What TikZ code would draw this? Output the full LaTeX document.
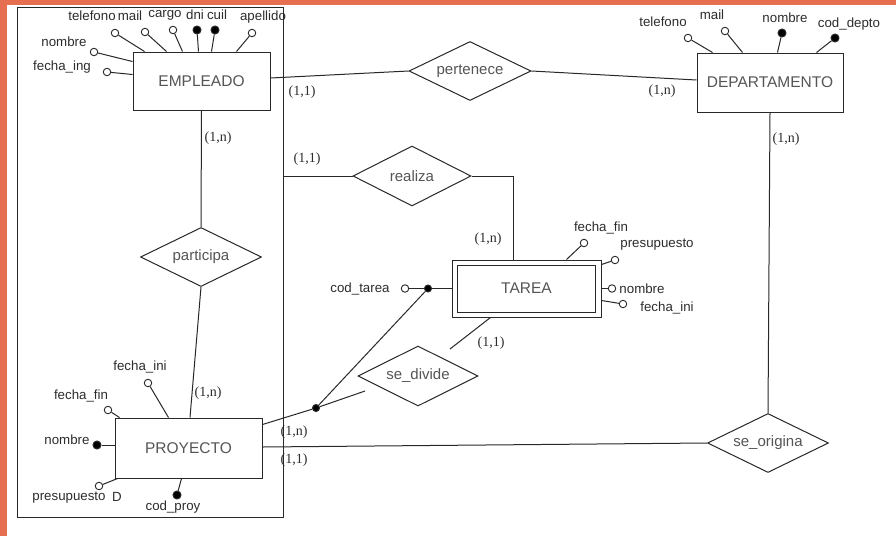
\documentclass[tikz,border=0pt]{standalone}
\usepackage{fontspec}
\setmainfont{Liberation Sans}
\newfontfamily\cardfont{Liberation Serif}
\usetikzlibrary{shapes.geometric}
\definecolor{frameor}{RGB}{231,111,81}
\definecolor{ln}{RGB}{40,40,40}
\definecolor{txt}{RGB}{45,45,45}
\definecolor{ent}{RGB}{85,85,85}
\begin{document}
\begin{tikzpicture}[x=1pt,y=-1pt,line width=1pt,
 entbox/.style={draw=ln, rectangle, inner sep=0pt, text=ent, font=\fontsize{15.5}{18}\selectfont},
 relbox/.style={draw=ln, diamond, shape aspect=2, inner sep=0pt, minimum width=121pt, minimum height=59pt, text=ent, font=\fontsize{15}{18}\selectfont},
 optattr/.style={circle, draw=ln, fill=white, inner sep=0pt, minimum size=7.5pt, line width=0.9pt},
 pkattr/.style={circle, draw=ln, fill=black, inner sep=0pt, minimum size=8pt},
 lbl/.style={inner sep=0pt, text=txt, font=\fontsize{13.3}{15}\selectfont},
 cardlbl/.style={inner sep=0pt, text=txt, font=\cardfont\fontsize{14}{16}\selectfont},
 connline/.style={draw=ln, line width=1pt}]
\useasboundingbox (0,0) rectangle (896,536);
\fill[white] (0,0) rectangle (896,536);
\fill[frameor] (0,0) rectangle (896,4.5);
\fill[frameor] (0,0) rectangle (7,536);

% aggregation box
\node[draw=ln, rectangle, minimum width=266pt, minimum height=510pt, inner sep=0pt] (agg) at (150,262) {};

% entities
\node[entbox, minimum width=137pt, minimum height=58pt] (emp) at (201.5,81) {EMPLEADO};
\node[entbox, minimum width=146pt, minimum height=59pt] (dep) at (770,82.5) {DEPARTAMENTO};
\node[entbox, minimum width=147pt, minimum height=60pt] (proy) at (188.5,448) {PROYECTO};
\node[entbox, minimum width=149pt, minimum height=57pt] (tarea) at (526.5,288.5) {TAREA};
\node[draw=ln, rectangle, inner sep=0pt, minimum width=138pt, minimum height=47pt] (tareain) at (tarea.center) {};

% relationships
\node[relbox, minimum width=122pt] (pert) at (470,71) {pertenece};
\node[relbox, minimum width=118pt, minimum height=60pt] (real) at (412,176) {realiza};
\node[relbox] (part) at (201,257) {participa};
\node[relbox, minimum width=120pt, minimum height=60pt] (sediv) at (418,376) {se\_divide};
\node[relbox] (seorig) at (768,443) {se\_origina};

% EMPLEADO attributes
\node[optattr] (e1) at (115,33) {};
\node[optattr] (e2) at (145,32) {};
\node[optattr] (e3) at (173,30) {};
\node[pkattr] (e4) at (197,30) {};
\node[pkattr] (e5) at (215,30) {};
\node[optattr] (e6) at (252,33) {};
\node[optattr] (e7) at (94,52) {};
\node[optattr] (e8) at (107,72) {};
\draw[connline] (e1) -- ([xshift=12pt]emp.north west);
\draw[connline] (e2) -- ([xshift=34pt]emp.north west);
\draw[connline] (e3) -- ([xshift=50pt]emp.north west);
\draw[connline] (e4) -- ([xshift=66pt]emp.north west);
\draw[connline] (e5) -- ([xshift=79pt]emp.north west);
\draw[connline] (e6) -- ([xshift=104pt]emp.north west);
\draw[connline] (e7) -- ([yshift=-10pt]emp.north west);
\draw[connline] (e8) -- ([yshift=-23pt]emp.north west);
\node[lbl] (le1) at (92,16) {telefono};
\node[lbl] (le2) at (130,16) {mail};
\node[lbl] (le3) at (165,15) {cargo};
\node[lbl] (le4) at (195,15) {dni};
\node[lbl] (le5) at (217,15) {cuil};
\node[lbl] (le6) at (263,17) {apellido};
\node[lbl] (le7) at (64,42) {nombre};
\node[lbl] (le8) at (62,67) {fecha\_ing};

% DEPARTAMENTO attributes
\node[optattr] (d1) at (688,38) {};
\node[optattr] (d2) at (725,31) {};
\node[pkattr] (d3) at (782,33) {};
\node[pkattr] (d4) at (835,38) {};
\draw[connline] (d1) -- ([xshift=16pt]dep.north west);
\draw[connline] (d2) -- ([xshift=46pt]dep.north west);
\draw[connline] (d3) -- ([xshift=81pt]dep.north west);
\draw[connline] (d4) -- ([xshift=120pt]dep.north west);
\node[lbl] (ld1) at (663,22) {telefono};
\node[lbl] (ld2) at (712,15) {mail};
\node[lbl] (ld3) at (785,18) {nombre};
\node[lbl] (ld4) at (849,24) {cod\_depto};

% TAREA attributes
\node[optattr] (t1) at (584,243) {};
\node[optattr] (t2) at (615,260) {};
\node[optattr] (t3) at (612,288.5) {};
\node[optattr] (t4) at (623,304) {};
\node[optattr] (t5) at (405,288.5) {};
\node[pkattr, minimum size=7pt] (jt) at (428,288.5) {};
\draw[connline] (t1) -- ([xshift=115pt]tarea.north west);
\draw[connline] (t2) -- ([yshift=-5pt]tarea.north east);
\draw[connline] (t3) -- (tarea.east);
\draw[connline] (t4) -- ([yshift=17pt]tarea.south east);
\draw[connline] (t5) -- (jt);
\draw[connline] (jt) -- (tarea.west);
\node[lbl] (lt1) at (601,228) {fecha\_fin};
\node[lbl] (lt2) at (657,245) {presupuesto};
\node[lbl] (lt3) at (642,289) {nombre};
\node[lbl] (lt4) at (667,308) {fecha\_ini};
\node[lbl] (lt5) at (360,289) {cod\_tarea};

% PROYECTO attributes
\node[optattr] (p1) at (148,383) {};
\node[optattr] (p2) at (108,410) {};
\node[pkattr] (p3) at (97,445) {};
\node[optattr] (p4) at (99,486) {};
\node[pkattr] (p5) at (177,495) {};
\draw[connline] (p1) -- ([xshift=54pt]proy.north west);
\draw[connline] (p2) -- ([xshift=5pt]proy.north west);
\draw[connline] (p3) -- ([yshift=3pt]proy.west);
\draw[connline] (p4) -- ([xshift=3pt]proy.south west);
\draw[connline] (p5) -- ([xshift=67pt]proy.south west);
\node[lbl] (lp1) at (140,367) {fecha\_ini};
\node[lbl] (lp2) at (81,396) {fecha\_fin};
\node[lbl] (lp3) at (67,440) {nombre};
\node[lbl] (lp4) at (69,498) {presupuesto};
\node[lbl] (lp6) at (117,497) {D};
\node[lbl] (lp5) at (173,507) {cod\_proy};

% relationship connectors
\draw[connline] ([yshift=3pt]emp.east) -- (pert.west);
\draw[connline] (pert.east) -- ([yshift=2.5pt]dep.west);
\draw[connline] (emp.south) -- (part.north);
\draw[connline] (part.south) -- ([xshift=1.5pt]proy.north);
\draw[connline] (real.west -| agg.east) -- (real.west);
\draw[connline] (real.east) -| ([xshift=-13.5pt]tarea.north);
\draw[connline] (dep.south) -- (seorig.north);
\draw[connline] ([yshift=1pt]proy.east) -- (seorig.west);

\node[pkattr, minimum size=7pt] (jd) at (316,408) {};
\coordinate (sdend) at (365,391);
\coordinate (tdend) at (450,349);
\draw[connline] ([yshift=-7pt]proy.north east) -- (jd);
\draw[connline] (jd) -- (sdend);
\draw[connline] (jd) -- (jt);
\draw[connline] ([xshift=39pt]tarea.south west) -- (tdend);

% cardinalities
\node[cardlbl] (c1) at (302,92) {(1,1)};
\node[cardlbl] (c2) at (662,91) {(1,n)};
\node[cardlbl] (c3) at (218,138) {(1,n)};
\node[cardlbl] (c4) at (307,159) {(1,1)};
\node[cardlbl] (c5) at (488,239) {(1,n)};
\node[cardlbl] (c6) at (786,139) {(1,n)};
\node[cardlbl] (c7) at (491,343) {(1,1)};
\node[cardlbl] (c8) at (208,393) {(1,n)};
\node[cardlbl] (c9) at (294,432) {(1,n)};
\node[cardlbl] (c10) at (294,460) {(1,1)};
\end{tikzpicture}
\end{document}
